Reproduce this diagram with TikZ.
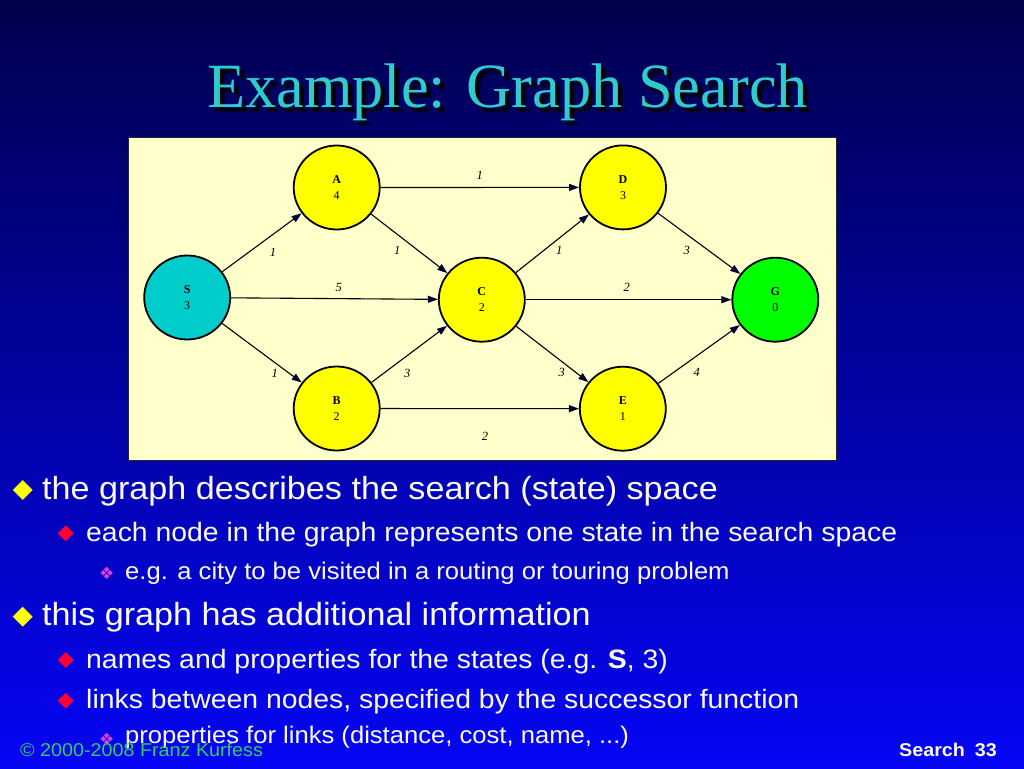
\documentclass[tikz,border=0pt]{standalone}
\usepackage{fontspec}
\setmainfont{Liberation Serif}
\newfontfamily\arialf{Liberation Sans}
\newfontfamily\dejavuf{DejaVu Sans}
\usetikzlibrary{shapes.geometric,arrows.meta}
\definecolor{bgtop}{HTML}{00004D}
\definecolor{bgbot}{HTML}{0505F5}
\definecolor{panelfill}{HTML}{FFFFCC}
\definecolor{titlecyan}{HTML}{2ECCCC}
\definecolor{nodecyan}{HTML}{00CCCC}
\definecolor{nodeyellow}{HTML}{FFFF00}
\definecolor{nodegreen}{HTML}{00FF00}
\definecolor{tipcol}{HTML}{000033}
\definecolor{bulyellow}{HTML}{FFFF00}
\definecolor{bulred}{HTML}{FF0033}
\definecolor{bulmag}{HTML}{DD44DD}
\definecolor{txtwhite}{HTML}{FAFAF2}
\definecolor{footgreen}{HTML}{33CC66}
\begin{document}
\begin{tikzpicture}[x=1pt,y=-1pt,
  state/.style={ellipse, draw=black, line width=1.8pt, minimum width=86pt, minimum height=84pt,
    inner sep=0pt, align=center, font=\fontsize{12}{16.5}\selectfont},
  link/.style={draw=black, line width=1.1pt, -{Triangle[length=10pt,width=7pt,color=tipcol]}},
  elabel/.style={inner sep=0pt, font=\fontsize{12.5}{12.5}\selectfont\itshape},
  lvlone/.style={anchor=base west, inner sep=0pt, text=txtwhite, font=\arialf\fontsize{32}{36}\selectfont},
  lvltwo/.style={anchor=base west, inner sep=0pt, text=txtwhite, font=\arialf\fontsize{26.6}{30}\selectfont},
  lvlthree/.style={anchor=base west, inner sep=0pt, text=txtwhite, font=\arialf\fontsize{24}{28}\selectfont},
  bulone/.style={diamond, aspect=1, fill=bulyellow, minimum width=20pt, minimum height=20pt, inner sep=0pt},
  bultwo/.style={diamond, aspect=1, fill=bulred, minimum width=16pt, minimum height=16pt, inner sep=0pt},
  bulthree/.style={inner sep=0pt, text=bulmag, font=\dejavuf\fontsize{17}{17}\selectfont},
  titlefont/.style={inner sep=0pt, anchor=base, font=\fontsize{63}{70}\selectfont}
]
\useasboundingbox (0,0) rectangle (1024,768);
\shade[top color=bgtop, bottom color=bgbot] (0,0) rectangle (1024,768);

% title with shadow
\node[titlefont, text=black, opacity=0.5] (titleshadowb) at (512.5,112) {\scalebox{0.99}[1]{Example: Graph Search}};
\node[titlefont, text=black, opacity=0.8] (titleshadow) at (511.5,111) {\scalebox{0.99}[1]{Example: Graph Search}};
\node[titlefont, text=titlecyan] (title) at (507.5,107) {\scalebox{0.99}[1]{Example: Graph Search}};

% graph panel
\node[draw=black!85, line width=1pt, fill=panelfill, minimum width=708pt, minimum height=323pt, inner sep=0pt] (panel) at (482,298.5) {};

% states
\node[state, fill=nodecyan]   (S) at (187.2,297.5) {\textbf{S}\\3};
\node[state, fill=nodeyellow] (A) at (336.7,187.5) {\textbf{A}\\4};
\node[state, fill=nodeyellow] (B) at (336.7,408.5) {\textbf{B}\\2};
\node[state, fill=nodeyellow] (C) at (481.8,299.7) {\textbf{C}\\2};
\node[state, fill=nodeyellow] (D) at (623,187.4) {\textbf{D}\\3};
\node[state, fill=nodeyellow] (E) at (622.8,408.7) {\textbf{E}\\1};
\node[state, fill=nodegreen]  (G) at (775.3,299.7) {\textbf{G}\\0};

% links
\draw[link] (S) -- (A);
\draw[link] (S) -- (C);
\draw[link] (S) -- (B);
\draw[link] (A) -- (D);
\draw[link] (A) -- (C);
\draw[link] (B) -- (C);
\draw[link] (B) -- (E);
\draw[link] (C) -- (D);
\draw[link] (C) -- (G);
\draw[link] (C) -- (E);
\draw[link] (D) -- (G);
\draw[link] (E) -- (G);

% link labels
\node[elabel] (lSA) at (273,252) {1};
\node[elabel] (lAC) at (397.3,250) {1};
\node[elabel] (lSC) at (338.7,287.7) {5};
\node[elabel] (lSB) at (274.7,373.3) {1};
\node[elabel] (lBC) at (407.3,373.3) {3};
\node[elabel] (lAD) at (479.7,175) {1};
\node[elabel] (lBE) at (485,436.7) {2};
\node[elabel] (lCD) at (559.3,250) {1};
\node[elabel] (lDG) at (686.7,250) {3};
\node[elabel] (lCG) at (626.7,287.7) {2};
\node[elabel] (lCE) at (561.7,372.7) {3};
\node[elabel] (lEG) at (696.7,372.7) {4};

% bullets
\node[bulone] (b1) at (22.7,490) {};
\node[lvlone] (t1) at (42,499) {\scalebox{1.067}[1]{the graph describes the search (state) space}};
\node[bultwo] (b2) at (65.7,533.3) {};
\node[lvltwo] (t2) at (86,541.7) {\scalebox{1.067}[1]{each node in the graph represents one state in the search space}};
\node[bulthree] (b3) at (106.7,573.3) {❖};
\node[lvlthree] (t3) at (125,579.3) {\scalebox{1.067}[1]{e.g. a city to be visited in a routing or touring problem}};
\node[bulone] (b4) at (22.7,616.7) {};
\node[lvlone] (t4) at (42,625) {\scalebox{1.067}[1]{this graph has additional information}};
\node[bultwo] (b5) at (65.7,660) {};
\node[lvltwo] (t5) at (86,668.3) {\scalebox{1.067}[1]{names and properties for the states (e.g. \textbf{S}, 3)}};
\node[bultwo] (b6) at (65.7,700.7) {};
\node[lvltwo] (t6) at (86,708.3) {\scalebox{1.067}[1]{links between nodes, specified by the successor function}};
\node[bulthree] (b7) at (106.7,739.3) {❖};
\node[lvlthree] (t7) at (125,743.3) {\scalebox{1.067}[1]{properties for links (distance, cost, name, ...)}};

% footer
\node[anchor=base west, inner sep=0pt, text=footgreen, font=\arialf\fontsize{18.5}{20}\selectfont] (copy) at (20,756.7) {\scalebox{1.067}[1]{© 2000-2008 Franz Kurfess}};
\node[anchor=base east, inner sep=0pt, text=txtwhite, font=\arialf\bfseries\fontsize{18.5}{20}\selectfont] (pageno) at (997,756.7) {\scalebox{1.067}[1]{Search\hspace{0.5em}33}};
\end{tikzpicture}
\end{document}
